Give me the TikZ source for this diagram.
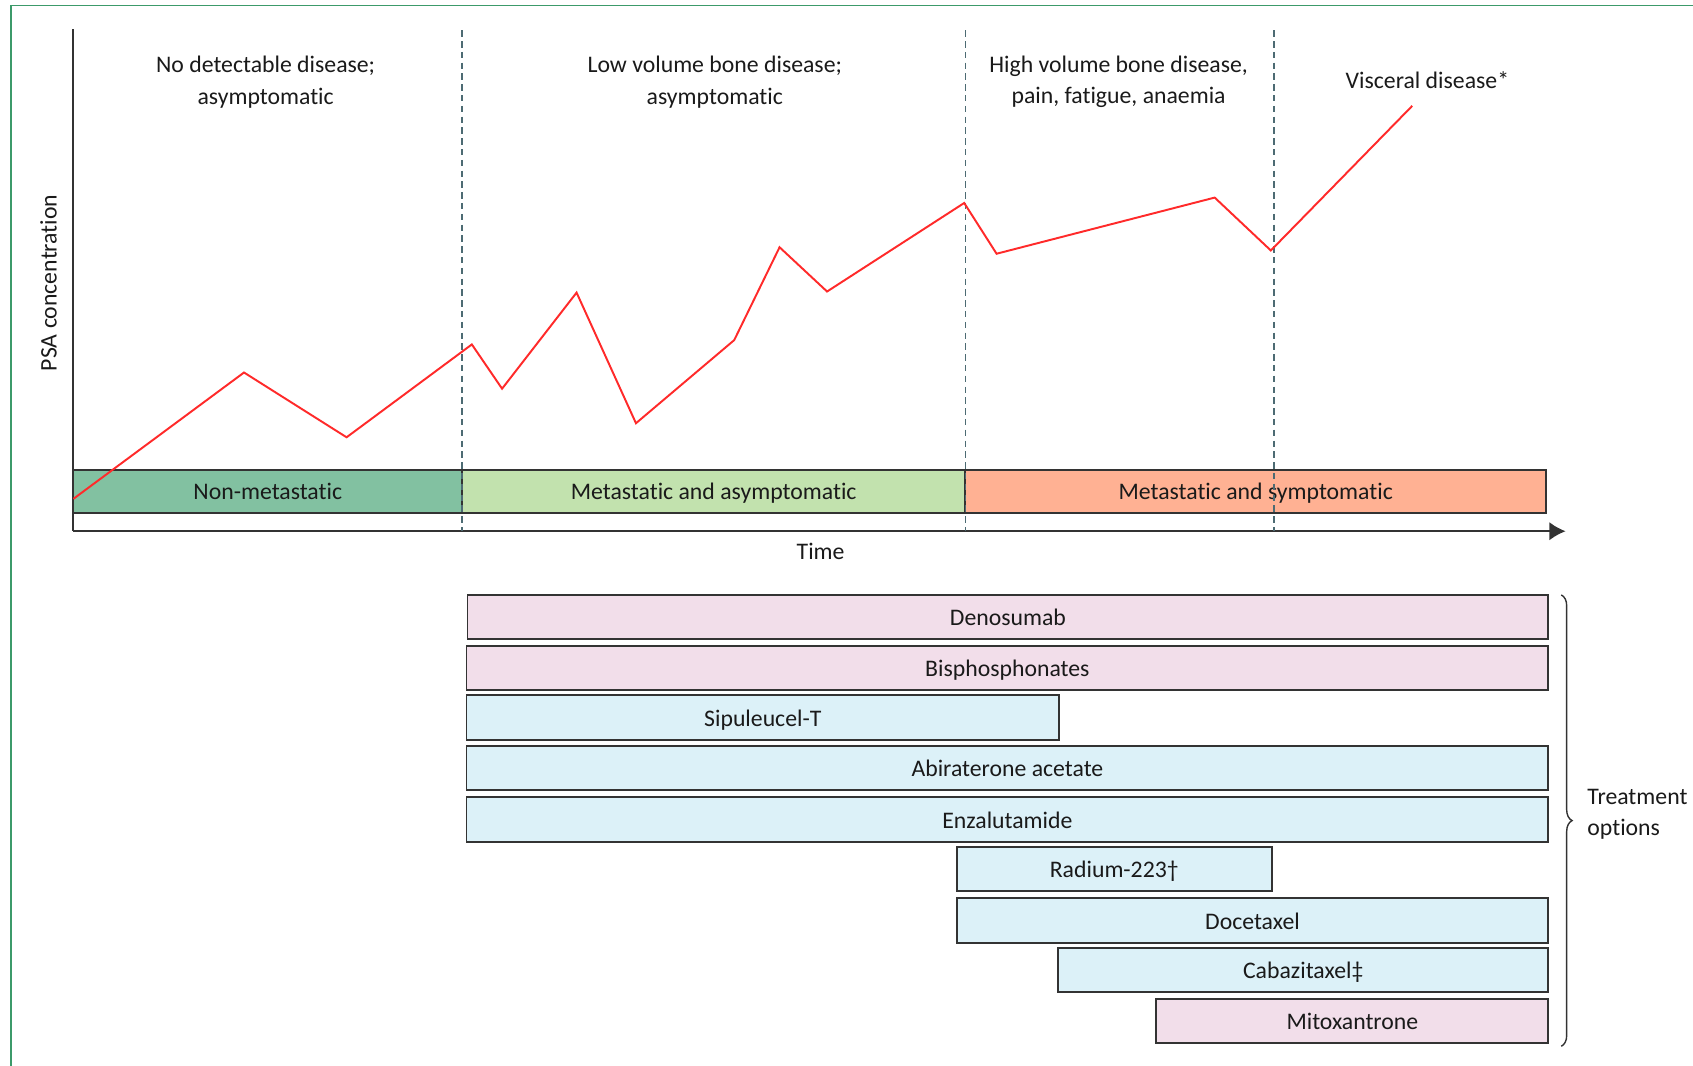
\documentclass[tikz,border=0pt]{standalone}
\usepackage{fontspec}
\setmainfont{Carlito}[Ligatures={NoCommon,NoContextual}]
\usetikzlibrary{arrows.meta,decorations.pathreplacing}
\definecolor{framegreen}{HTML}{3C9A6A}
\definecolor{boxline}{HTML}{333333}
\definecolor{txt}{HTML}{1A1A1A}
\definecolor{dashc}{HTML}{4D6B73}
\definecolor{nmfill}{HTML}{82C1A1}
\definecolor{mafill}{HTML}{C2E2AE}
\definecolor{msfill}{HTML}{FFB193}
\definecolor{pinkc}{HTML}{F2DEEA}
\definecolor{bluec}{HTML}{DCF1F8}
\definecolor{psared}{HTML}{FF2A2A}
\tikzset{
  lbl/.style={font=\fontsize{22}{29}\selectfont, text=txt, align=center, inner sep=0pt},
  stagebar/.style={draw=boxline, line width=1.7pt, minimum height=40pt, inner sep=0pt, text height=17pt, text depth=1pt, font=\fontsize{22}{29}\selectfont, text=txt},
  tbox/.style={draw=boxline, line width=1.7pt, minimum height=41pt, inner sep=0pt, text height=17pt, text depth=1pt, font=\fontsize{22}{29}\selectfont, text=txt},
  divline/.style={dashc, line width=1.3pt, dash pattern=on 6pt off 4pt},
  axisline/.style={boxline, line width=1.8pt}
}
\begin{document}
\begin{tikzpicture}[x=1pt,y=-1pt]
\useasboundingbox (0,0) rectangle (1568,987);
\clip (0,0) rectangle (1568,987);
% frame
\draw[framegreen, line width=1.5pt] (10,1000) -- (10,5) -- (1580,5);

% stage bars
\node[stagebar, fill=nmfill, minimum width=360pt] (nm) at (248,455) {Non-metastatic};
\node[stagebar, fill=mafill, minimum width=466pt] (ma) at (661,455) {Metastatic and asymptomatic};
\node[stagebar, fill=msfill, minimum width=538pt] (ms) at (1163,455) {Metastatic and symptomatic};

% axes
\coordinate (origin) at (68,492);
\coordinate (ytop) at (68,27);
\coordinate (xend) at (1450,492);
\draw[axisline] (ytop) -- (origin);
\draw[axisline, -{Latex[length=15pt,width=17pt]}] (origin) -- (xend);

% dividers
\coordinate (d1t) at (428,28); \coordinate (d1b) at (428,492);
\coordinate (d2t) at (894,28); \coordinate (d2b) at (894,492);
\coordinate (d3t) at (1180,28); \coordinate (d3b) at (1180,492);
\draw[divline] (d1t) -- (d1b);
\draw[divline] (d2t) -- (d2b);
\draw[divline] (d3t) -- (d3b);

% PSA curve
\draw[psared, line width=1.8pt, line join=miter]
  (68,462) -- (226,345) -- (321,405) -- (437,319) -- (465,360) -- (534,271)
  -- (589,392) -- (680,315) -- (722,229) -- (766,270) -- (893,188) -- (923,235)
  -- (1125,183) -- (1177,232) -- (1308,98);

% labels
\node[lbl] (l1) at (246,76) {No detectable disease;\\asymptomatic};
\node[lbl] (l2) at (662,76) {Low volume bone disease;\\asymptomatic};
\node[lbl] (l3) at (1036,76) {High volume bone disease,\\pain, fatigue, anaemia};
\node[lbl] (l4) at (1322,74) {Visceral disease*};
\node[lbl, rotate=90] (psa) at (45,262) {PSA concentration};
\node[lbl] (time) at (760,511) {Time};

% treatments
\node[tbox, fill=pinkc, minimum width=1001pt] (deno) at (933.5,571.5) {Denosumab};
\node[tbox, fill=pinkc, minimum width=1002pt] (bisph) at (933,618.5) {Bisphosphonates};
\node[tbox, fill=bluec, minimum width=549pt] (sipu) at (706.5,664.5) {Sipuleucel-T};
\node[tbox, fill=bluec, minimum width=1002pt] (abir) at (933,711.5) {Abiraterone acetate};
\node[tbox, fill=bluec, minimum width=1002pt] (enza) at (933,759) {Enzalutamide};
\node[tbox, fill=bluec, minimum width=292pt] (rad) at (1032,805) {Radium-223†};
\node[tbox, fill=bluec, minimum width=548pt] (doc) at (1160,852.5) {Docetaxel};
\node[tbox, fill=bluec, minimum width=454pt] (cab) at (1207,898.5) {Cabazitaxel‡};
\node[tbox, fill=pinkc, minimum width=363pt] (mito) at (1252.5,945.5) {Mitoxantrone};

% brace
\coordinate (bt) at (1446,551);
\coordinate (bb) at (1446,969);
\draw[boxline, line width=1.3pt, decorate, decoration={brace, amplitude=10pt}] (bt) -- (bb);
\node[lbl, align=left, anchor=west] (treat) at (1470,754) {Treatment\\options};
\end{tikzpicture}
\end{document}
